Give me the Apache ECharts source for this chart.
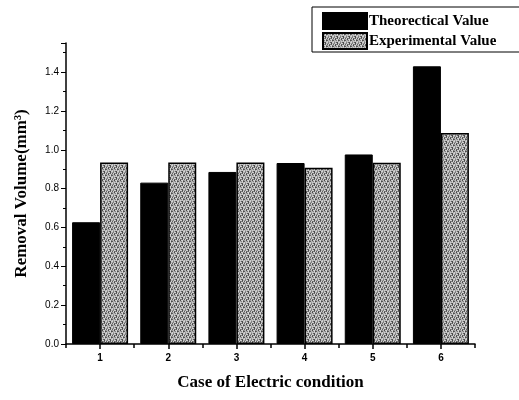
<!DOCTYPE html>
<html><head><meta charset="utf-8">
<script src="https://cdn.jsdelivr.net/npm/echarts@6/dist/echarts.min.js"></script>
<style>html,body{margin:0;padding:0;background:#fff}#c{width:519px;height:400px}</style>
</head><body><div id="c"></div>
<script>
var categories = ['1','2','3','4','5','6'];
var theoretical = [0.627, 0.831, 0.886, 0.932, 0.976, 1.430];
var experimental = [0.934, 0.934, 0.934, 0.908, 0.933, 1.086];
var seriesNames = ['Theorectical Value', 'Experimental Value'];
var yTitle = 'Removal Volume(mm\u00B3)';
var xTitle = 'Case of Electric condition';

// deterministic grey dither texture
var cv = document.createElement('canvas');
cv.width = 6; cv.height = 6;
var cx = cv.getContext('2d');
var shades = ['#4a4a4a','#b8b8b8','#808080','#cccccc','#606060','#a0a0a0','#d4d4d4'];
for (var i = 0; i < 6; i++) for (var j = 0; j < 6; j++) {
  cx.fillStyle = shades[(i * 3 + j * 5 + (i*j)%3) % 7];
  cx.fillRect(i, j, 1, 1);
}
var pattern = {image: cv, repeat: 'repeat'};

var chart = echarts.init(document.getElementById('c'), null, {renderer: 'canvas'});
var serif = 'Liberation Serif';
chart.setOption({
  animation: false,
  backgroundColor: '#fff',
  grid: {left: 66, right: 44, top: 43, bottom: 56},
  legend: {
    orient: 'vertical', left: 312, top: 7,
    padding: [5, 40, 2, 10], itemGap: 2,
    itemWidth: 44, itemHeight: 16, icon: 'rect',
    borderColor: '#000', borderWidth: 1,
    textStyle: {fontFamily: serif, fontWeight: 'bold', fontSize: 15, color: '#000', padding: [0,0,0,-3], lineHeight: 17},
    data: seriesNames
  },
  xAxis: [{
    type: 'category', data: categories,
    axisLine: {lineStyle: {color: '#000', width: 1.5}},
    axisTick: {show: true, length: 4, interval: 0, lineStyle: {color: '#000', width: 1.5}},
    axisLabel: {show: false},
    splitLine: {show: false}
  }, {
    type: 'category', data: categories, position: 'bottom',
    axisLine: {show: false},
    axisTick: {show: true, alignWithLabel: true, length: 5, interval: 0, lineStyle: {color: '#000', width: 1.5}},
    axisLabel: {fontFamily: 'Liberation Sans', fontSize: 10, color: '#000', margin: 9, fontWeight: 'bold'},
    name: xTitle, nameLocation: 'middle', nameGap: 30,
    nameTextStyle: {fontFamily: serif, fontWeight: 'bold', fontSize: 17, color: '#000'}
  }],
  yAxis: {
    type: 'value', min: 0, max: 1.55, interval: 0.2,
    axisLine: {show: true, lineStyle: {color: '#000', width: 1.5}},
    axisTick: {show: true, length: 5, lineStyle: {color: '#000', width: 1}},
    minorTick: {show: true, splitNumber: 2, length: 3, lineStyle: {color: '#000', width: 1}},
    splitLine: {show: false},
    axisLabel: {fontFamily: 'Liberation Sans', fontSize: 10, color: '#000', margin: 7, showMaxLabel: false,
      formatter: function (v) { return v.toFixed(1); }},
    name: yTitle, nameLocation: 'middle', nameGap: 36,
    nameTextStyle: {fontFamily: serif, fontWeight: 'bold', fontSize: 17, color: '#000'}
  },
  series: [{
    name: seriesNames[0], type: 'bar', data: theoretical, barWidth: 28, barGap: '0%',
    itemStyle: {color: '#000', borderColor: '#000', borderWidth: 1}
  }, {
    name: seriesNames[1], type: 'bar', data: experimental, barWidth: 28, barGap: '0%',
    itemStyle: {color: pattern, borderColor: '#000', borderWidth: 1.5}
  }]
});
</script></body></html>
